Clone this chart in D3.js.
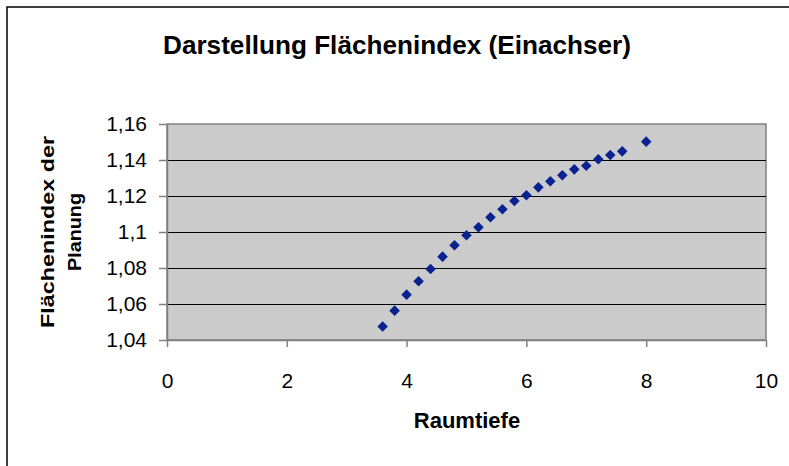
<!DOCTYPE html>
<html><head><meta charset="utf-8">
<script src="https://cdn.jsdelivr.net/npm/d3@7/dist/d3.min.js"></script>
<style>body{margin:0;background:#fff}svg{display:block}text{font-family:"Liberation Sans",Arial,sans-serif}</style>
</head><body>
<svg id="c" width="789" height="466"></svg>
<script>
const raumtiefe = [3.6,3.8,4.0,4.2,4.4,4.6,4.8,5.0,5.2,5.4,5.6,5.8,6.0,6.2,6.4,6.6,6.8,7.0,7.2,7.4,7.6,8.0];
const flaechenindex = [1.0475,1.0563,1.0652,1.0726,1.0794,1.0863,1.0926,1.0982,1.1026,1.1082,1.1126,1.1172,1.1204,1.1248,1.1282,1.1315,1.1348,1.1368,1.1404,1.1428,1.1448,1.1502];
const xTicks = [0,2,4,6,8,10];
const yTicks = [1.04,1.06,1.08,1.10,1.12,1.14,1.16];
const title = "Darstellung Flächenindex (Einachser)";
const xTitle = "Raumtiefe";
const yTitle = ["Flächenindex der","Planung"];

const svg = d3.select("#c");
const L=167,R=766,T=124,B=340;
const x = d3.scaleLinear().domain([0,10]).range([L,R]);
const y = d3.scaleLinear().domain([1.04,1.16]).range([B,T]);
const loc = d3.formatLocale({decimal:",",thousands:".",grouping:[3],currency:["","€"]});
const fy = loc.format(".2~f");

// outer frame
svg.append("rect").attr("x",7).attr("y",7).attr("width",820).attr("height",520)
  .attr("fill","none").attr("stroke","#000").attr("stroke-width",1.5);

// plot area
svg.append("rect").attr("x",L).attr("y",T).attr("width",R-L).attr("height",B-T)
  .attr("fill","#cbcbcb").attr("stroke","#808080").attr("stroke-width",1.5);

// grid
svg.append("g").selectAll("line").data(yTicks.slice(1,-1)).join("line")
  .attr("x1",L).attr("x2",R).attr("y1",d=>Math.round(y(d))+0.5).attr("y2",d=>Math.round(y(d))+0.5)
  .attr("stroke","#000").attr("stroke-width",1);

// axes
const gx = svg.append("g").attr("transform",`translate(0,${B})`)
  .call(d3.axisBottom(x).tickValues(xTicks).tickSize(7).tickPadding(26).tickSizeOuter(0));
const gy = svg.append("g").attr("transform",`translate(${L},0)`)
  .call(d3.axisLeft(y).tickValues(yTicks).tickSize(8).tickPadding(12).tickFormat(fy).tickSizeOuter(0));
[gx,gy].forEach(g=>{
  g.select(".domain").attr("stroke","#808080").attr("stroke-width",1.5);
  g.selectAll(".tick line").attr("stroke","#808080").attr("stroke-width",1.5);
  g.selectAll(".tick text").attr("fill","#000").style("font-size","21px").style("font-family",'"Liberation Sans",Arial,sans-serif');
});

// points
const sym = d3.symbol().type(d3.symbolSquare).size(56);
svg.append("g").selectAll("path").data(raumtiefe.map((v,i)=>[v,flaechenindex[i]])).join("path")
  .attr("d",sym).attr("transform",d=>`translate(${x(d[0])},${y(d[1])}) rotate(45)`)
  .attr("fill","#0a2190");

// titles
svg.append("text").attr("x",163).attr("y",54).attr("text-anchor","start")
  .style("font-size","25px").style("font-weight","bold")
  .attr("textLength",468).attr("lengthAdjust","spacingAndGlyphs").text(title);
svg.append("text").attr("x",467).attr("y",428).attr("text-anchor","middle")
  .style("font-size","22px").style("font-weight","bold").text(xTitle);
const yLens = [192, 78];
yTitle.forEach((s,i)=>{
  svg.append("text").attr("transform",`translate(${53.5+i*27.5},${232}) rotate(-90)`)
    .attr("text-anchor","middle").style("font-size","18px").style("font-weight","bold")
    .attr("textLength",yLens[i]).attr("lengthAdjust","spacingAndGlyphs").text(s);
});
</script>
</body></html>
